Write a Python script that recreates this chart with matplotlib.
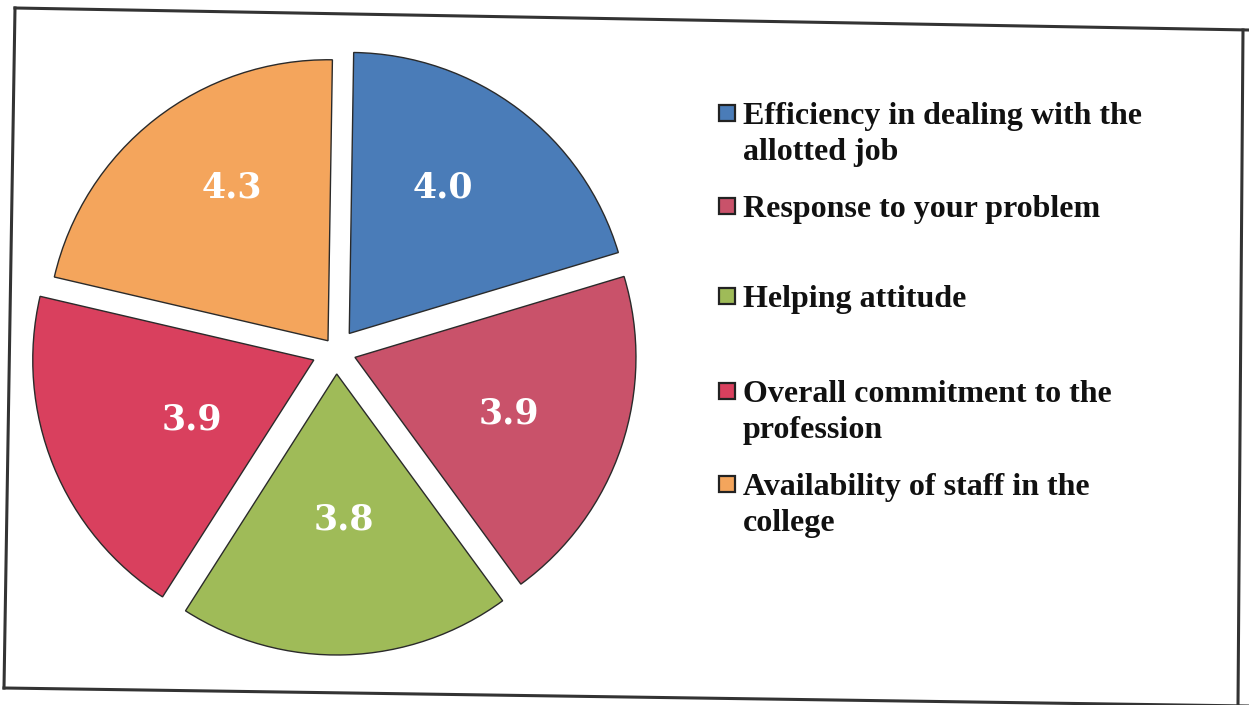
import numpy as np
import matplotlib
matplotlib.use("Agg")
import matplotlib.pyplot as plt
from matplotlib.lines import Line2D
from matplotlib.patches import Rectangle

# mean scores per aspect (clockwise from 12 o'clock)
categories = [["Efficiency in dealing with the", "allotted job"],
              ["Response to your problem"],
              ["Helping attitude"],
              ["Overall commitment to the", "profession"],
              ["Availability of staff in the", "college"]]
scores = [4.0, 3.9, 3.8, 3.9, 4.3]
colors = ["#4a7cb8", "#c9526a", "#9fbb58", "#d9405e", "#f4a55c"]

# layout (pixels)
W, H = 1249, 705
cx, cy = 336, H - 351
radius = 281
gaps = [22, 20, 23, 24, 13]
label_dist = [0.616, 0.583, 0.52, 0.483, 0.642]
label_turn = [4.3, -1.4, 1.1, 4.0, -5.9]   # degrees, nudges the value labels
legend_top = [124, 217, 307, 402, 495]     # baseline of first line
line_gap = 36

fig = plt.figure(figsize=(W / 100, H / 100), dpi=100)
ax = fig.add_axes([0, 0, 1, 1])

# scan is turned ~0.9 deg
wedges, _ = ax.pie(scores, colors=colors, startangle=89.1, counterclock=False,
                   radius=radius, center=(cx, cy), explode=gaps,
                   wedgeprops=dict(edgecolor="#2a2a2a", linewidth=1.0))

for w, s, d, t in zip(wedges, scores, label_dist, label_turn):
    th = np.deg2rad((w.theta1 + w.theta2) / 2 + t)
    x0, y0 = w.center
    ax.text(x0 + d * radius * np.cos(th), y0 + d * radius * np.sin(th),
            f"{s:.1f}", color="white", fontsize=25, fontweight="bold",
            family="DejaVu Serif", ha="center", va="center")

ax.set_xlim(0, W)
ax.set_ylim(0, H)
ax.set_aspect("equal")
ax.axis("off")

# hand made legend
for lines, col, yb in zip(categories, colors, legend_top):
    ax.add_patch(Rectangle((719, H - yb + 3), 16, 16, facecolor=col,
                           edgecolor="#222222", linewidth=1.6))
    for i, txt in enumerate(lines):
        ax.text(743, H - yb - i * line_gap, txt, fontsize=23, fontweight="bold",
                family="Liberation Serif", ha="left", va="baseline",
                color="#111111")

# scanned frame, a bit skewed
frame = [[(15, 8), (1249, 30)], [(15, 8), (4, 688)],
         [(4, 688), (1249, 706)], [(1243, 30), (1238, 705)]]
for seg in frame:
    xs = [p[0] for p in seg]
    ys = [H - p[1] for p in seg]
    ax.add_line(Line2D(xs, ys, color="#333333", linewidth=2.2))

fig.savefig("out.png", dpi=100)
